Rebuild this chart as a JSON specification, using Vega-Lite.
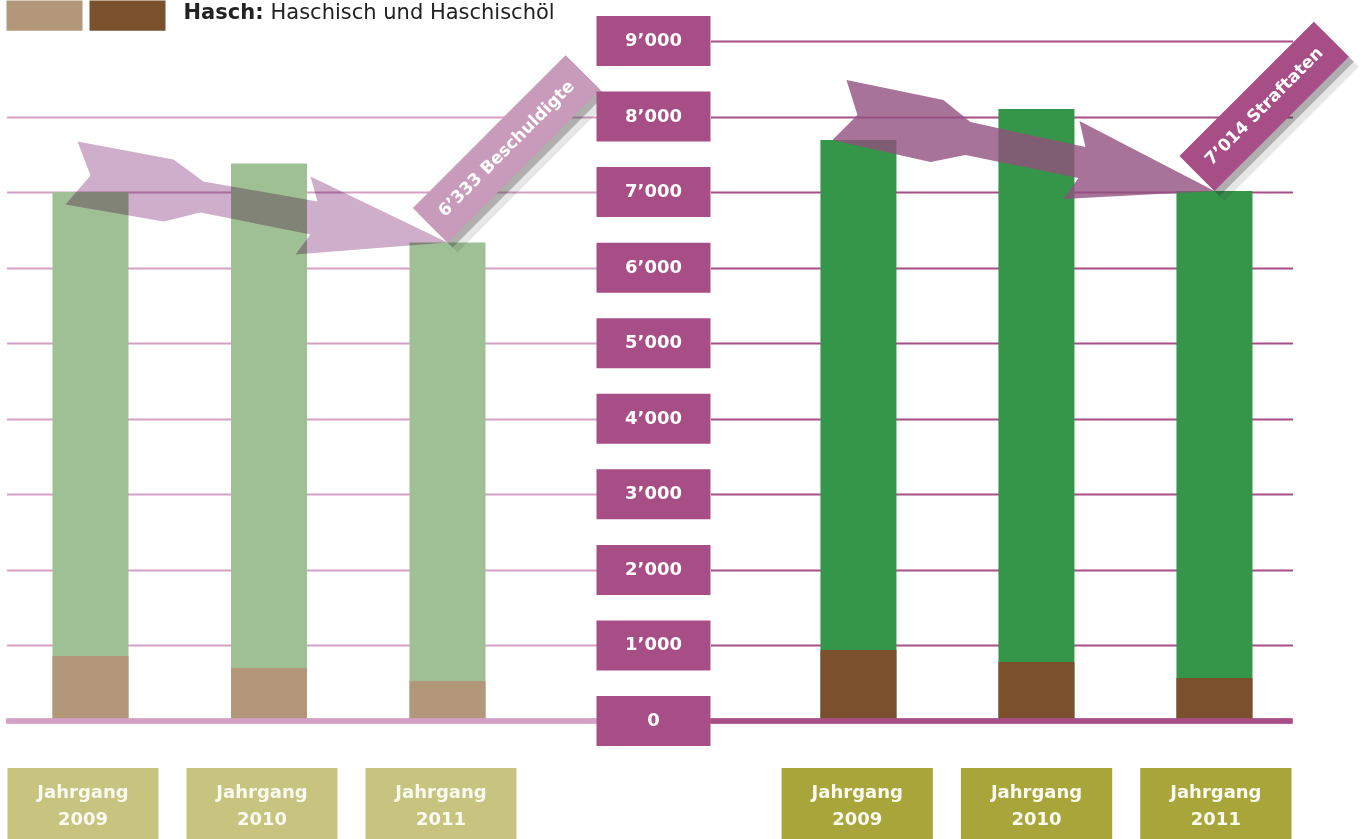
{
  "$schema": "https://vega.github.io/schema/vega-lite/v6.json",
  "background": "white",
  "padding": {"left": 3.5, "top": -23, "right": 0, "bottom": 0},
  "config": {
    "view": {"stroke": null},
    "font": "DejaVu Sans",
    "locale": {"number": {"decimal": ".", "thousands": "’", "grouping": [3], "currency": ["", ""]}}
  },
  "datasets": {
    "beschuldigte": [
      {"Jahr": "2009", "Total": 7000, "Hasch": 860},
      {"Jahr": "2010", "Total": 7380, "Hasch": 700},
      {"Jahr": "2011", "Total": 6333, "Hasch": 530, "Hinweis": "6’333 Beschuldigte"}
    ],
    "straftaten": [
      {"Jahr": "2009", "Total": 7690, "Hasch": 940},
      {"Jahr": "2010", "Total": 8100, "Hasch": 780},
      {"Jahr": "2011", "Total": 7014, "Hasch": 570, "Hinweis": "7’014 Straftaten"}
    ],
    "achse": [
      {"Wert": 0}, {"Wert": 1000}, {"Wert": 2000}, {"Wert": 3000}, {"Wert": 4000},
      {"Wert": 5000}, {"Wert": 6000}, {"Wert": 7000}, {"Wert": 8000}, {"Wert": 9000}
    ],
    "jahrgang": [
      {"Jahr": "2009", "Label": "Jahrgang 2009"},
      {"Jahr": "2010", "Label": "Jahrgang 2010"},
      {"Jahr": "2011", "Label": "Jahrgang 2011"}
    ]
  },
  "bounds": "flush",
  "spacing": 727,
  "resolve": {"scale": {"x": "independent", "y": "independent", "color": "shared"}},
  "vconcat": [
    {
      "bounds": "flush",
      "spacing": 0,
      "resolve": {"scale": {"x": "independent", "y": "independent", "color": "shared"}},
      "hconcat": [
        {
          "width": 590,
          "height": 680,
          "data": {"name": "beschuldigte"},
          "layer": [
            {
              "mark": {"type": "bar", "color": "#9fc095"},
              "encoding": {
                "x": {"field": "Jahr", "type": "nominal", "scale": {"type": "band", "domain": ["2009", "2010", "2011"], "paddingInner": 0.5742, "paddingOuter": 0.4398, "align": 0.293}, "axis": null},
                "y": {"field": "Total", "type": "quantitative", "scale": {"domain": [0, 9000], "nice": false, "zero": true},
                  "axis": {"grid": true, "values": [1000, 2000, 3000, 4000, 5000, 6000, 7000, 8000], "gridColor": "#d4a0c4", "gridOpacity": 1, "gridWidth": 2, "labels": false, "ticks": false, "domain": false, "title": null}}
              }
            },
            {
              "mark": {"type": "bar"},
              "encoding": {
                "x": {"field": "Jahr", "type": "nominal"},
                "y": {"field": "Hasch", "type": "quantitative"},
                "color": {
                  "datum": "Hasch (Beschuldigte)",
                  "scale": {"domain": ["Hasch (Beschuldigte)", "Hasch (Straftaten)"], "range": ["#b3977b", "#7a502d"]},
                  "legend": {
                    "orient": "none", "legendX": 0, "legendY": -63.8, "direction": "horizontal", "padding": 0,
                    "symbolType": "M-1,-0.4H1V0.4H-1Z", "symbolSize": 5776, "symbolStrokeWidth": 0, "symbolOpacity": 1,
                    "labelExpr": "datum.label == 'Hasch (Straftaten)' ? 'Hasch:' : ''",
                    "labelFontSize": 21, "labelFontWeight": "bold", "labelColor": "#222222", "labelOffset": 0, "columnPadding": 7, "labelLimit": 0,
                    "title": "Haschisch und Haschischöl", "titleOrient": "right", "titleFontSize": 21, "titleFontWeight": "normal", "titleLimit": 0,
                    "titleColor": "#222222", "titlePadding": 7, "titleAnchor": "middle", "titleBaseline": "middle",
                    "encode": {"labels": {"update": {"dx": {"signal": "datum.value === 'Hasch (Straftaten)' ? 18 : 0"}, "dy": {"value": -3}}}, "title": {"update": {"dy": {"value": 9}}}}
                  }
                }
              }
            },
            {
              "mark": {"type": "rule", "color": "#d4a0c4", "strokeWidth": 5},
              "encoding": {"y": {"datum": 0}}
            },
            {
              "transform": [{"filter": "datum.Jahr == '2011'"}],
              "layer": [
                {
                  "mark": {"type": "point", "shape": "M-370,-101L-274,-83L-244,-61L-130,-41L-137,-66L0,0L-152,12L-137,-8L-247,-30L-284,-21L-382,-38L-357,-67Z", "size": 4, "filled": true, "color": "#c6a0c1", "opacity": 0.85, "strokeWidth": 0, "blend": "multiply"},
                  "encoding": {"x": {"field": "Jahr", "type": "nominal"}, "y": {"field": "Total", "type": "quantitative"}}
                },
                {
                  "mark": {"type": "point", "shape": "M10,10L-24.6,-24.6L128.1,-177.3L162.7,-142.7Z", "size": 4, "filled": true, "color": "#333333", "opacity": 0.12, "strokeWidth": 0},
                  "encoding": {"x": {"field": "Jahr", "type": "nominal"}, "y": {"field": "Total", "type": "quantitative"}}
                },
                {
                  "mark": {"type": "point", "shape": "M5,5L-29.6,-29.6L123.1,-182.3L157.7,-147.7Z", "size": 4, "filled": true, "color": "#333333", "opacity": 0.3, "strokeWidth": 0},
                  "encoding": {"x": {"field": "Jahr", "type": "nominal"}, "y": {"field": "Total", "type": "quantitative"}}
                },
                {
                  "mark": {"type": "point", "shape": "M0,0L-34.6,-34.6L118.1,-187.3L152.7,-152.7Z", "size": 4, "filled": true, "color": "#c99bbb", "opacity": 1, "strokeWidth": 0},
                  "encoding": {"x": {"field": "Jahr", "type": "nominal"}, "y": {"field": "Total", "type": "quantitative"}}
                },
                {
                  "mark": {"type": "text", "angle": 315, "dx": 108, "dy": -24.5, "align": "center", "baseline": "middle", "fontWeight": "bold", "fontSize": 17, "color": "white"},
                  "encoding": {"x": {"field": "Jahr", "type": "nominal"}, "y": {"field": "Total", "type": "quantitative"}, "text": {"field": "Hinweis"}}
                }
              ]
            }
          ]
        },
        {
          "width": 114,
          "height": 680,
          "data": {"name": "achse"},
          "layer": [
            {
              "mark": {"type": "tick", "orient": "horizontal", "size": 114, "thickness": 50, "color": "#a84e86", "opacity": 1},
              "encoding": {"y": {"field": "Wert", "type": "quantitative", "scale": {"domain": [0, 9000], "nice": false}, "axis": null}}
            },
            {
              "mark": {"type": "text", "color": "white", "fontWeight": "bold", "fontSize": 18, "baseline": "middle", "align": "center"},
              "encoding": {
                "y": {"field": "Wert", "type": "quantitative"},
                "text": {"field": "Wert", "type": "quantitative", "format": ",d"}
              }
            }
          ]
        },
        {
          "width": 582,
          "height": 680,
          "data": {"name": "straftaten"},
          "layer": [
            {
              "mark": {"type": "bar", "color": "#359649"},
              "encoding": {
                "x": {"field": "Jahr", "type": "nominal", "scale": {"type": "band", "domain": ["2009", "2010", "2011"], "paddingInner": 0.573, "paddingOuter": 0.4213, "align": 0.733}, "axis": null},
                "y": {"field": "Total", "type": "quantitative", "scale": {"domain": [0, 9000], "nice": false, "zero": true},
                  "axis": {"grid": true, "values": [1000, 2000, 3000, 4000, 5000, 6000, 7000, 8000, 9000], "gridColor": "#a84e86", "gridOpacity": 1, "gridWidth": 2, "labels": false, "ticks": false, "domain": false, "title": null}}
              }
            },
            {
              "mark": {"type": "bar"},
              "encoding": {
                "x": {"field": "Jahr", "type": "nominal"},
                "y": {"field": "Hasch", "type": "quantitative"},
                "color": {
                  "datum": "Hasch (Straftaten)",
                  "scale": {"domain": ["Hasch (Beschuldigte)", "Hasch (Straftaten)"], "range": ["#b3977b", "#7a502d"]},
                  "legend": {
                    "orient": "none", "legendX": 0, "legendY": -63.8, "direction": "horizontal", "padding": 0,
                    "symbolType": "M-1,-0.4H1V0.4H-1Z", "symbolSize": 5776, "symbolStrokeWidth": 0, "symbolOpacity": 1,
                    "labelExpr": "datum.label == 'Hasch (Straftaten)' ? 'Hasch:' : ''",
                    "labelFontSize": 21, "labelFontWeight": "bold", "labelColor": "#222222", "labelOffset": 0, "columnPadding": 7, "labelLimit": 0,
                    "title": "Haschisch und Haschischöl", "titleOrient": "right", "titleFontSize": 21, "titleFontWeight": "normal", "titleLimit": 0,
                    "titleColor": "#222222", "titlePadding": 7, "titleAnchor": "middle", "titleBaseline": "middle",
                    "encode": {"labels": {"update": {"dx": {"signal": "datum.value === 'Hasch (Straftaten)' ? 18 : 0"}, "dy": {"value": -3}}}, "title": {"update": {"dy": {"value": 9}}}}
                  }
                }
              }
            },
            {
              "mark": {"type": "rule", "color": "#a84e86", "strokeWidth": 5},
              "encoding": {"y": {"datum": 0}}
            },
            {
              "transform": [{"filter": "datum.Jahr == '2011'"}],
              "layer": [
                {
                  "mark": {"type": "point", "shape": "M-368,-111L-271,-91L-244,-69L-129,-44L-135,-70L0,0L-151,8L-136,-13L-249,-36L-284,-29L-382,-51L-357,-76Z", "size": 4, "filled": true, "color": "#925080", "opacity": 0.8, "strokeWidth": 0},
                  "encoding": {"x": {"field": "Jahr", "type": "nominal"}, "y": {"field": "Total", "type": "quantitative"}}
                },
                {
                  "mark": {"type": "point", "shape": "M10,10L-25,-25L109.4,-159.4L144.4,-124.4Z", "size": 4, "filled": true, "color": "#333333", "opacity": 0.12, "strokeWidth": 0},
                  "encoding": {"x": {"field": "Jahr", "type": "nominal"}, "y": {"field": "Total", "type": "quantitative"}}
                },
                {
                  "mark": {"type": "point", "shape": "M5,5L-30,-30L104.4,-164.4L139.4,-129.4Z", "size": 4, "filled": true, "color": "#333333", "opacity": 0.3, "strokeWidth": 0},
                  "encoding": {"x": {"field": "Jahr", "type": "nominal"}, "y": {"field": "Total", "type": "quantitative"}}
                },
                {
                  "mark": {"type": "point", "shape": "M0,0L-35,-35L99.4,-169.4L134.4,-134.4Z", "size": 4, "filled": true, "color": "#a84e86", "opacity": 1, "strokeWidth": 0},
                  "encoding": {"x": {"field": "Jahr", "type": "nominal"}, "y": {"field": "Total", "type": "quantitative"}}
                },
                {
                  "mark": {"type": "text", "angle": 315, "dx": 95, "dy": -24.75, "align": "center", "baseline": "middle", "fontWeight": "bold", "fontSize": 17, "color": "white"},
                  "encoding": {"x": {"field": "Jahr", "type": "nominal"}, "y": {"field": "Total", "type": "quantitative"}, "text": {"field": "Hinweis"}}
                }
              ]
            }
          ]
        }
      ]
    },
    {
      "bounds": "flush",
      "spacing": 114,
      "resolve": {"scale": {"x": "independent"}},
      "hconcat": [
        {
          "width": 590,
          "height": 71,
          "data": {"name": "jahrgang"},
          "layer": [
            {
              "mark": {"type": "rect", "color": "#c6c47f"},
              "encoding": {"x": {"field": "Jahr", "type": "nominal", "scale": {"type": "band", "paddingInner": 0.1564, "paddingOuter": 0.2263, "align": 0.0123}, "axis": null}}
            },
            {
              "mark": {"type": "text", "color": "#fafaf2", "fontWeight": "bold", "fontSize": 18, "lineBreak": " ", "lineHeight": 27, "baseline": "middle", "dy": -10.5},
              "encoding": {"x": {"field": "Jahr", "type": "nominal"}, "text": {"field": "Label"}}
            }
          ]
        },
        {
          "width": 582,
          "height": 71,
          "data": {"name": "jahrgang"},
          "layer": [
            {
              "mark": {"type": "rect", "color": "#a8a53a"},
              "encoding": {"x": {"field": "Jahr", "type": "nominal", "scale": {"type": "band", "paddingInner": 0.1564, "paddingOuter": 0.2011, "align": 0.986}, "axis": null}}
            },
            {
              "mark": {"type": "text", "color": "#fafaf2", "fontWeight": "bold", "fontSize": 18, "lineBreak": " ", "lineHeight": 27, "baseline": "middle", "dy": -10.5},
              "encoding": {"x": {"field": "Jahr", "type": "nominal"}, "text": {"field": "Label"}}
            }
          ]
        }
      ]
    }
  ]
}
